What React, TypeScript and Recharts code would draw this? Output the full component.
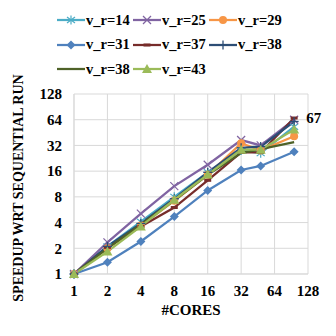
import React from 'react';
import { LineChart, Line, XAxis, YAxis, CartesianGrid, Label } from 'recharts';

// cores on the x axis (log scale)
const cores = [1, 2, 4, 8, 16, 32, 48, 96];
const xTicks = [1, 2, 4, 8, 16, 32, 64, 128];
const yTicks = [1, 2, 4, 8, 16, 32, 64, 128];

// speedup per v_r setting
const vr14 = [1, 2.1, 4.1, 8.0, 15.5, 28, 26, 53];
const vr25 = [1, 2.35, 5.1, 10.7, 19, 37, 32, 64];
const vr29 = [1, 2.0, 3.7, 7.2, 14.5, 34, 28, 41];
const vr31 = [1, 1.37, 2.4, 4.7, 9.5, 16.5, 18.4, 27];
const vr37 = [1, 2.05, 3.6, 6.0, 12.5, 26.5, 26.5, 67];
const vr38a = [1, 2.1, 3.9, 7.6, 15.5, 30, 31, 61];
const vr38b = [1, 2.0, 3.8, 7.3, 14.5, 26, 29, 35];
const vr43 = [1, 1.83, 3.6, 7.4, 14.6, 28.5, 28.5, 49];

type Shape = 'star' | 'x' | 'circle' | 'diamond' | 'dash' | 'plus' | 'none' | 'triangle';

const series: { key: string; name: string; values: number[]; color: string; shape: Shape }[] = [
  { key: 's14', name: 'v_r=14', values: vr14, color: '#4bacc6', shape: 'star' },
  { key: 's25', name: 'v_r=25', values: vr25, color: '#8064a2', shape: 'x' },
  { key: 's29', name: 'v_r=29', values: vr29, color: '#f79646', shape: 'circle' },
  { key: 's31', name: 'v_r=31', values: vr31, color: '#4f81bd', shape: 'diamond' },
  { key: 's37', name: 'v_r=37', values: vr37, color: '#772c2a', shape: 'dash' },
  { key: 's38a', name: 'v_r=38', values: vr38a, color: '#2c4d75', shape: 'plus' },
  { key: 's38b', name: 'v_r=38', values: vr38b, color: '#4f6228', shape: 'none' },
  { key: 's43', name: 'v_r=43', values: vr43, color: '#9bbb59', shape: 'triangle' },
];

const data = cores.map((c, i) => {
  const row: any = { cores: c };
  series.forEach((s) => (row[s.key] = s.values[i]));
  return row;
});

const FONT = 'Liberation Serif';

function Marker({ cx, cy, shape, color }: { cx: number; cy: number; shape: Shape; color: string }) {
  if (cx == null || cy == null) return <g />;
  switch (shape) {
    case 'star':
      return (
        <g stroke={color} strokeWidth={1.2}>
          <line x1={cx} y1={cy - 4.5} x2={cx} y2={cy + 4.5} />
          <line x1={cx - 4} y1={cy - 3} x2={cx + 4} y2={cy + 3} />
          <line x1={cx - 4} y1={cy + 3} x2={cx + 4} y2={cy - 3} />
        </g>
      );
    case 'x':
      return (
        <g stroke={color} strokeWidth={1.2}>
          <line x1={cx - 4} y1={cy - 4} x2={cx + 4} y2={cy + 4} />
          <line x1={cx - 4} y1={cy + 4} x2={cx + 4} y2={cy - 4} />
        </g>
      );
    case 'circle':
      return <circle cx={cx} cy={cy} r={4} fill={color} />;
    case 'diamond':
      return <polygon points={`${cx},${cy - 4.5} ${cx + 4.5},${cy} ${cx},${cy + 4.5} ${cx - 4.5},${cy}`} fill={color} />;
    case 'dash':
      return <line x1={cx - 3.5} y1={cy} x2={cx + 3.5} y2={cy} stroke={color} strokeWidth={3} />;
    case 'plus':
      return (
        <g stroke={color} strokeWidth={1.3}>
          <line x1={cx - 4.5} y1={cy} x2={cx + 4.5} y2={cy} />
          <line x1={cx} y1={cy - 4.5} x2={cx} y2={cy + 4.5} />
        </g>
      );
    case 'triangle':
      return <polygon points={`${cx},${cy - 5} ${cx + 5},${cy + 4} ${cx - 5},${cy + 4}`} fill={color} />;
    default:
      return <g />;
  }
}

const makeDot = (shape: Shape, color: string) => (props: any) => (
  <Marker key={`${shape}-${props.index}`} cx={props.cx} cy={props.cy} shape={shape} color={color} />
);

// the "67" label on the last point of v_r=37
const lastLabel = (props: any) => {
  if (props.index !== cores.length - 1) return null;
  return (
    <text x={props.x + 12} y={props.y + 5} fontFamily={FONT} fontWeight="bold" fontSize={15} fill="#000">
      {props.value}
    </text>
  );
};

function LegendBlock() {
  return (
    <div style={{ position: 'absolute', left: 0, top: 0, width: 336, height: 90 }}>
      {series.map((s, i) => {
        const col = i % 3;
        const row = Math.floor(i / 3);
        return (
          <div
            key={s.key}
            style={{
              position: 'absolute',
              left: 57 + col * 76,
              top: 11 + row * 24.5,
              display: 'flex',
              alignItems: 'center',
              height: 18,
            }}
          >
            <svg width={29} height={18}>
              <line x1={0} y1={9} x2={28} y2={9} stroke={s.color} strokeWidth={2.25} />
              <Marker cx={14} cy={9} shape={s.shape} color={s.color} />
            </svg>
            <span style={{ fontFamily: FONT, fontWeight: 'bold', fontSize: 14.5, color: '#000', whiteSpace: 'nowrap' }}>
              {s.name}
            </span>
          </div>
        );
      })}
    </div>
  );
}

const tickStyle = { fontFamily: FONT, fontWeight: 'bold', fontSize: 15, fill: '#000' };

export default function App() {
  return (
    <div style={{ position: 'absolute', left: 0, top: 0, width: 336, height: 336, background: '#fff' }}>
      <LineChart width={336} height={336} data={data} margin={{ top: 94, right: 28, left: 0, bottom: 0 }}>
        <CartesianGrid stroke="#d9d9d9" horizontal vertical />
        <XAxis
          dataKey="cores"
          type="number"
          scale="log"
          domain={[1, 128]}
          ticks={xTicks}
          interval={0}
          height={62}
          tickSize={0}
          tickMargin={11}
          axisLine={{ stroke: '#d9d9d9' }}
          tickLine={false}
          tick={tickStyle}
        >
          <Label
            value="#CORES"
            position="insideTop"
            offset={30}
            style={{ fontFamily: FONT, fontWeight: 'bold', fontSize: 15, fill: '#000' }}
          />
        </XAxis>
        <YAxis
          type="number"
          scale="log"
          domain={[1, 128]}
          ticks={yTicks}
          interval={0}
          width={74}
          tickSize={0}
          tickMargin={12}
          axisLine={{ stroke: '#d9d9d9' }}
          tickLine={false}
          tick={tickStyle}
        >
          <Label
            content={() => (
              <text
                x={18}
                y={188}
                transform="rotate(-90 18 188)"
                textAnchor="middle"
                dominantBaseline="central"
                fontFamily={FONT}
                fontWeight="bold"
                fontSize={14}
                fill="#000"
              >
                SPEEDUP WRT SEQUENTIAL RUN
              </text>
            )}
          />
        </YAxis>
        {series.map((s) => (
          <Line
            key={s.key}
            dataKey={s.key}
            stroke={s.color}
            strokeWidth={2.25}
            dot={makeDot(s.shape, s.color)}
            activeDot={false}
            isAnimationActive={false}
            label={s.key === 's37' ? lastLabel : undefined}
          />
        ))}
      </LineChart>
      <LegendBlock />
    </div>
  );
}
